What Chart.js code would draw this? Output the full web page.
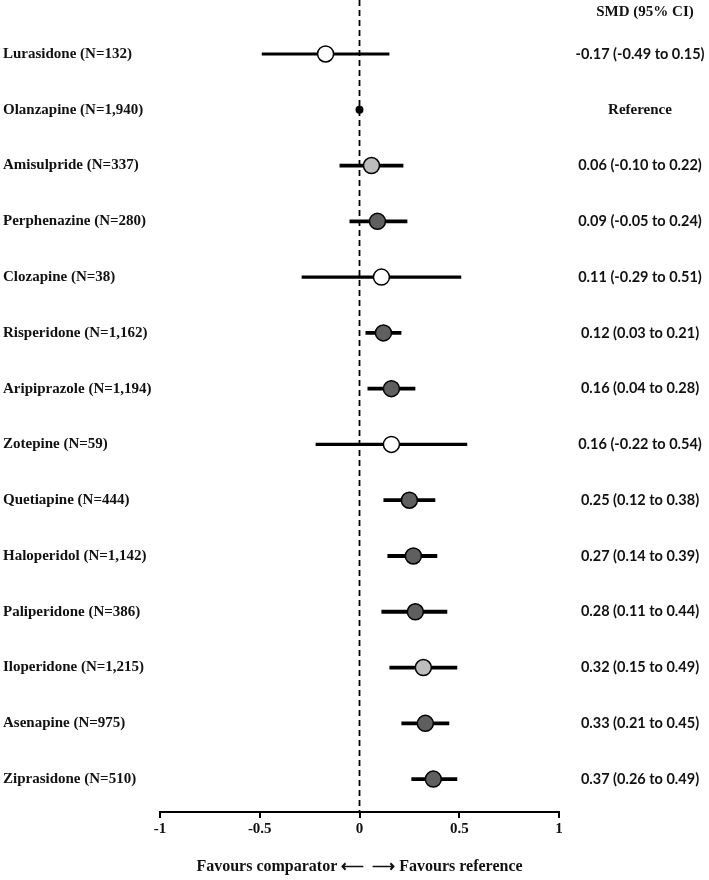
<!DOCTYPE html>
<html>
<head>
<meta charset="utf-8">
<script src="https://cdn.jsdelivr.net/npm/chart.js@4/dist/chart.umd.min.js"></script>
<style>
html,body{margin:0;padding:0;background:#fff;}
#wrap{width:709px;height:880px;position:relative;}
</style>
</head>
<body>
<div id="wrap"><canvas id="c" width="709" height="880"></canvas></div>
<script>
const drugs = ["Lurasidone (N=132)","Olanzapine (N=1,940)","Amisulpride (N=337)","Perphenazine (N=280)","Clozapine (N=38)","Risperidone (N=1,162)","Aripiprazole (N=1,194)","Zotepine (N=59)","Quetiapine (N=444)","Haloperidol (N=1,142)","Paliperidone (N=386)","Iloperidone (N=1,215)","Asenapine (N=975)","Ziprasidone (N=510)"];
const smd   = [-0.17, 0, 0.06, 0.09, 0.11, 0.12, 0.16, 0.16, 0.25, 0.27, 0.28, 0.32, 0.33, 0.37];
const lower = [-0.49, 0, -0.10, -0.05, -0.29, 0.03, 0.04, -0.22, 0.12, 0.14, 0.11, 0.15, 0.21, 0.26];
const upper = [0.15, 0, 0.22, 0.24, 0.51, 0.21, 0.28, 0.54, 0.38, 0.39, 0.44, 0.49, 0.45, 0.49];
const isReference = [false, true, false, false, false, false, false, false, false, false, false, false, false, false];
const markerGroup = ["open","ref","light","dark","open","dark","dark","open","dark","dark","dark","light","dark","dark"];
const xTicks = [-1, -0.5, 0, 0.5, 1];
const xTickLabels = ["-1", "-0.5", "0", "0.5", "1"];
const columnHeader = "SMD (95% CI)";
const referenceText = "Reference";
const axisTitle = "Favours comparator \u27F5  \u27F6 Favours reference";

const groupFill = {open:"#ffffff", ref:"#000000", light:"#bdbdbd", dark:"#5f5f5f"};
const SERIF = "'Liberation Serif', 'Times New Roman', serif";
const Y_MIN = -0.968, Y_MAX = 13.59;

const fmt = v => v.toFixed(2);
const ciText = smd.map((v, i) => isReference[i] ? referenceText : `${fmt(v)} (${fmt(lower[i])} to ${fmt(upper[i])})`);

const datasets = [];
// points (first => drawn on top)
datasets.push({
  type: 'scatter',
  data: smd.map((v, i) => ({x: v, y: i})),
  pointRadius: ctx => isReference[ctx.dataIndex] ? 4 : 8,
  pointBackgroundColor: ctx => groupFill[markerGroup[ctx.dataIndex]],
  pointBorderColor: '#000',
  pointBorderWidth: ctx => isReference[ctx.dataIndex] ? 0 : 1.5,
  showLine: false,
  clip: false
});
// CI lines
smd.forEach((v, i) => {
  if (isReference[i]) return;
  datasets.push({
    type: 'line',
    data: [{x: lower[i], y: i}, {x: upper[i], y: i}],
    borderColor: '#000',
    borderWidth: markerGroup[i] === 'open' ? 3.2 : 3.8,
    pointRadius: 0,
    borderCapStyle: 'butt',
    fill: false
  });
});
// reference dashed line
datasets.push({
  type: 'line',
  data: [{x: 0, y: Y_MIN}, {x: 0, y: Y_MAX}],
  borderColor: '#000',
  borderWidth: 1.8,
  borderDash: [6, 4],
  pointRadius: 0,
  fill: false
});

const sideText = {
  id: 'sideText',
  afterDraw(chart) {
    const ctx = chart.ctx;
    const y = chart.scales.y;
    ctx.save();
    ctx.fillStyle = '#111';
    ctx.textBaseline = 'middle';
    // left column: drug names
    ctx.textAlign = 'left';
    ctx.font = `bold 15px ${SERIF}`;
    drugs.forEach((t, i) => ctx.fillText(t, 3, y.getPixelForValue(i)));
    // right column
    ctx.textAlign = 'center';
    ctx.fillText(columnHeader, 645, y.getPixelForValue(-0.753));
    ciText.forEach((t, i) => {
      if (isReference[i]) ctx.font = `bold 15px ${SERIF}`;
      else ctx.font = `bold 14.5px Lato, 'Open Sans', sans-serif`;
      ctx.fillText(t, 640, y.getPixelForValue(i));
    });
    ctx.restore();
  }
};

new Chart(document.getElementById('c'), {
  type: 'scatter',
  data: {datasets},
  plugins: [sideText],
  options: {
    responsive: false,
    animation: false,
    layout: {autoPadding: false, padding: {left: 160, right: 150, top: 0, bottom: 0}},
    plugins: {legend: {display: false}, tooltip: {enabled: false}},
    scales: {
      x: {
        type: 'linear', position: 'bottom', min: -1, max: 1,
        afterBuildTicks: s => { s.ticks = xTicks.map(v => ({value: v})); },
        afterFit: s => { s.height = 68; s.paddingLeft = 0; s.paddingRight = 0; },
        ticks: {
          callback: (v, i) => xTickLabels[i],
          font: {family: SERIF, size: 15, weight: 'bold'},
          color: '#111', padding: 2, maxRotation: 0
        },
        grid: {display: true, drawOnChartArea: false, drawTicks: true, tickLength: 6, color: '#000', lineWidth: 2},
        border: {display: true, color: '#000', width: 2},
        title: {display: true, text: axisTitle, color: '#111',
          font: {family: SERIF, size: 16, weight: 'bold'}, padding: {top: 4, bottom: 4}}
      },
      y: {
        type: 'linear', position: 'left', reverse: true, min: Y_MIN, max: Y_MAX,
        display: false
      }
    }
  }
});
</script>
</body>
</html>
